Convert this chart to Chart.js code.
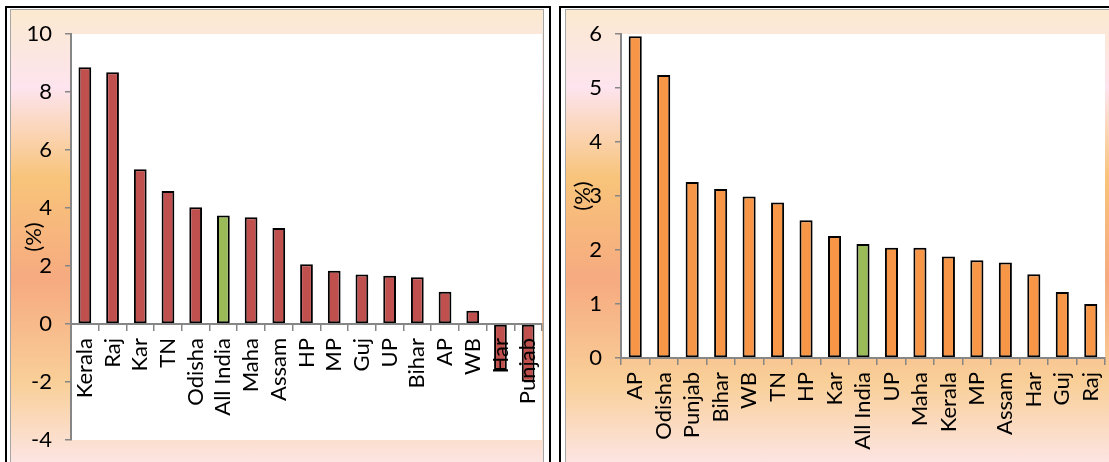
<!DOCTYPE html>
<html>
<head>
<meta charset="utf-8">
<script src="https://cdn.jsdelivr.net/npm/chart.js@4.4.1/dist/chart.umd.min.js"></script>
<style>
  html, body { margin: 0; padding: 0; background: #fff; width: 1109px; height: 462px; overflow: hidden; }
  .outer { position: absolute; box-sizing: border-box; border: 2px solid #000; background: #fff; }
  .inner { position: absolute; box-sizing: border-box; border: 1px solid #a6a6a6;
    background: linear-gradient(to bottom, #fbe9d0 0px, #fde4ee 78px, #f8c47a 168px, #f6aa80 270px, #f9cf98 372px, #fce4e0 450px, #fce4e0 520px); }
  canvas { position: absolute; }
</style>
</head>
<body>
<div class="outer" style="left:5px; top:6px; width:546px; height:520px;"></div>
<div class="inner" style="left:10px; top:9px; width:534px; height:510px;"></div>
<canvas id="leftChart" width="532" height="452" style="left:11px; top:10px;"></canvas>

<div class="outer" style="left:559px; top:6px; width:600px; height:520px;"></div>
<div class="inner" style="left:565px; top:9px; width:600px; height:510px;"></div>
<canvas id="rightChart" width="543" height="452" style="left:566px; top:10px;"></canvas>

<script>
// ---- Data ----
const leftCategories = ['Kerala','Raj','Kar','TN','Odisha','All India','Maha','Assam','HP','MP','Guj','UP','Bihar','AP','WB','Har','Punjab'];
const leftValues = [8.85, 8.68, 5.34, 4.59, 4.03, 3.74, 3.68, 3.31, 2.06, 1.84, 1.71, 1.66, 1.61, 1.11, 0.46, -1.59, -1.99];

const rightCategories = ['AP','Odisha','Punjab','Bihar','WB','TN','HP','Kar','All India','UP','Maha','Kerala','MP','Assam','Har','Guj','Raj'];
const rightValues = [5.96, 5.24, 3.26, 3.13, 2.99, 2.88, 2.55, 2.26, 2.11, 2.04, 2.04, 1.88, 1.81, 1.77, 1.55, 1.22, 1.00];

const leftYTicks = { min: -4, max: 10, step: 2 };
const rightYTicks = { min: 0, max: 6, step: 1 };
const axisTitle = '(%)';
const highlightCategory = 'All India';

// ---- Styles ----
const AXIS_GRAY = '#868686';
const GREEN = '#9bbb59';
const FONT = 'Lato';
const FONT_SIZE = 22;

const whiteArea = {
  id: 'whiteArea',
  beforeDraw(chart) {
    const { ctx, chartArea } = chart;
    ctx.save();
    ctx.fillStyle = '#ffffff';
    ctx.fillRect(chartArea.left, chartArea.top, chartArea.right - chartArea.left, chartArea.bottom - chartArea.top);
    ctx.restore();
  }
};

function makeChart(id, cats, vals, baseColor, yt, yWidth, pad, titlePad, yTickPad) {
  const colors = cats.map(c => c === highlightCategory ? GREEN : baseColor);
  return new Chart(document.getElementById(id), {
    type: 'bar',
    data: {
      labels: cats,
      datasets: [{
        data: vals,
        backgroundColor: colors,
        borderColor: '#000000',
        borderWidth: 2,
        borderSkipped: false,
        barPercentage: 0.46,
        categoryPercentage: 1.0
      }]
    },
    options: {
      responsive: false,
      animation: false,
      devicePixelRatio: 1,
      layout: { padding: pad },
      plugins: { legend: { display: false }, tooltip: { enabled: false } },
      scales: {
        x: {
          type: 'category',
          position: { y: 0 },
          offset: true,
          afterFit(scale) { scale.paddingLeft = 0; scale.paddingRight = 0; scale.paddingTop = 0; scale.paddingBottom = 0; },
          grid: { offset: true, drawOnChartArea: false, drawTicks: true, tickLength: 6, color: AXIS_GRAY, lineWidth: 1.5 },
          border: { display: true, color: AXIS_GRAY, width: 2, z: 1 },
          ticks: {
            autoSkip: false, minRotation: 90, maxRotation: 90, padding: 8, z: 1,
            color: '#000', font: { family: FONT, size: FONT_SIZE }
          }
        },
        y: {
          position: 'left',
          min: yt.min, max: yt.max,
          afterFit(scale) { scale.width = yWidth; scale.paddingTop = 0; scale.paddingBottom = 0; },
          grid: { drawOnChartArea: false, drawTicks: true, tickLength: 6, color: AXIS_GRAY, lineWidth: 1.5 },
          border: { display: true, color: AXIS_GRAY, width: 2 },
          ticks: {
            stepSize: yt.step, padding: yTickPad, color: '#000',
            font: { family: FONT, size: FONT_SIZE }
          },
          title: {
            display: true, text: axisTitle, color: '#000',
            font: { family: FONT, size: FONT_SIZE },
            padding: { top: titlePad, bottom: 0 }
          }
        }
      }
    },
    plugins: [whiteArea]
  });
}

makeChart('leftChart', leftCategories, leftValues, '#c0504d', leftYTicks, 60,
  { top: 24, right: 1, bottom: 22, left: 0 }, 10, 13);
makeChart('rightChart', rightCategories, rightValues, '#f79646', rightYTicks, 55,
  { top: 24, right: 4, bottom: 104, left: 0 }, 4, 13);
</script>
</body>
</html>
